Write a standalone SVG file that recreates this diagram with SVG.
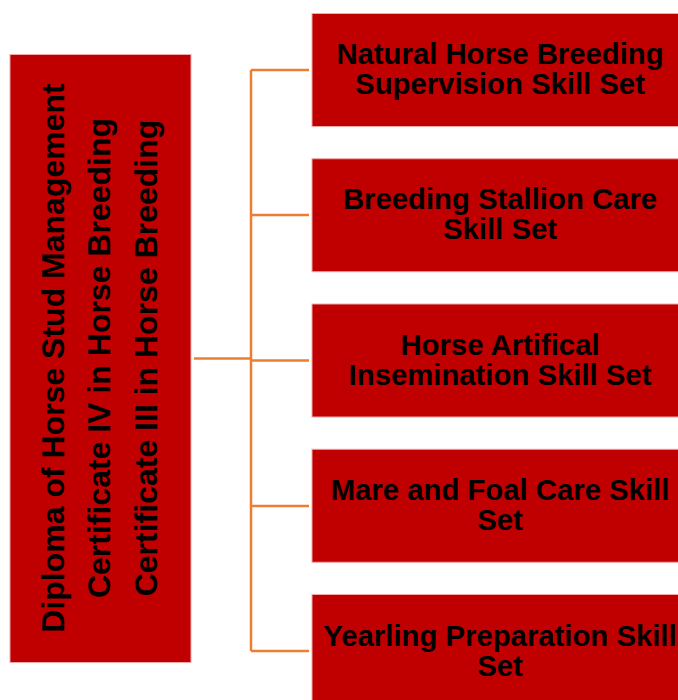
<svg xmlns="http://www.w3.org/2000/svg" width="678" height="700" viewBox="0 0 678 700">
<style>
.box{fill:#C00000;stroke:#F2A8A8;stroke-width:1}
.t{font-family:"Liberation Sans",Arial,sans-serif;font-weight:bold;font-size:29.3px;fill:#000;text-anchor:middle}
.lt{font-family:"Liberation Sans",Arial,sans-serif;font-weight:bold;font-size:32px;fill:#000;text-anchor:middle}
.c{stroke:#ED7D31;stroke-width:2.5;fill:none}
</style>
<rect width="678" height="700" fill="#fff"/>
<g id="connectors">
<line class="c" x1="194" y1="358.5" x2="251" y2="358.5"/>
<line class="c" x1="251" y1="70" x2="251" y2="651"/>
<line class="c" x1="251" y1="70" x2="309" y2="70"/>
<line class="c" x1="251" y1="215" x2="309" y2="215"/>
<line class="c" x1="251" y1="360.5" x2="309" y2="360.5"/>
<line class="c" x1="251" y1="506" x2="309" y2="506"/>
<line class="c" x1="251" y1="651" x2="309" y2="651"/>
</g>
<g id="root">
<rect class="box" x="10" y="54.5" width="181" height="608"/>
<g transform="translate(0,358) rotate(-90)">
<text class="lt" x="0" y="64">Diploma of Horse Stud Management</text>
<text class="lt" x="0" y="110">Certificate IV in Horse Breeding</text>
<text class="lt" x="0" y="157">Certificate III in Horse Breeding</text>
</g>
</g>
<g id="n1">
<rect class="box" x="312" y="13.5" width="380" height="113"/>
<text class="t" x="500" y="63.5">Natural Horse Breeding</text>
<text class="t" x="500" y="93.5">Supervision Skill Set</text>
</g>
<g id="n2">
<rect class="box" x="312" y="158.75" width="380" height="113"/>
<text class="t" x="500" y="209">Breeding Stallion Care</text>
<text class="t" x="500" y="239">Skill Set</text>
</g>
<g id="n3">
<rect class="box" x="312" y="304" width="380" height="113"/>
<text class="t" x="500" y="354.5">Horse Artifical</text>
<text class="t" x="500" y="384.5">Insemination Skill Set</text>
</g>
<g id="n4">
<rect class="box" x="312" y="449.25" width="380" height="113"/>
<text class="t" x="500" y="500">Mare and Foal Care Skill</text>
<text class="t" x="500" y="530">Set</text>
</g>
<g id="n5">
<rect class="box" x="312" y="594.5" width="380" height="113"/>
<text class="t" x="500" y="645.5">Yearling Preparation Skill</text>
<text class="t" x="500" y="675.5">Set</text>
</g>
</svg>
